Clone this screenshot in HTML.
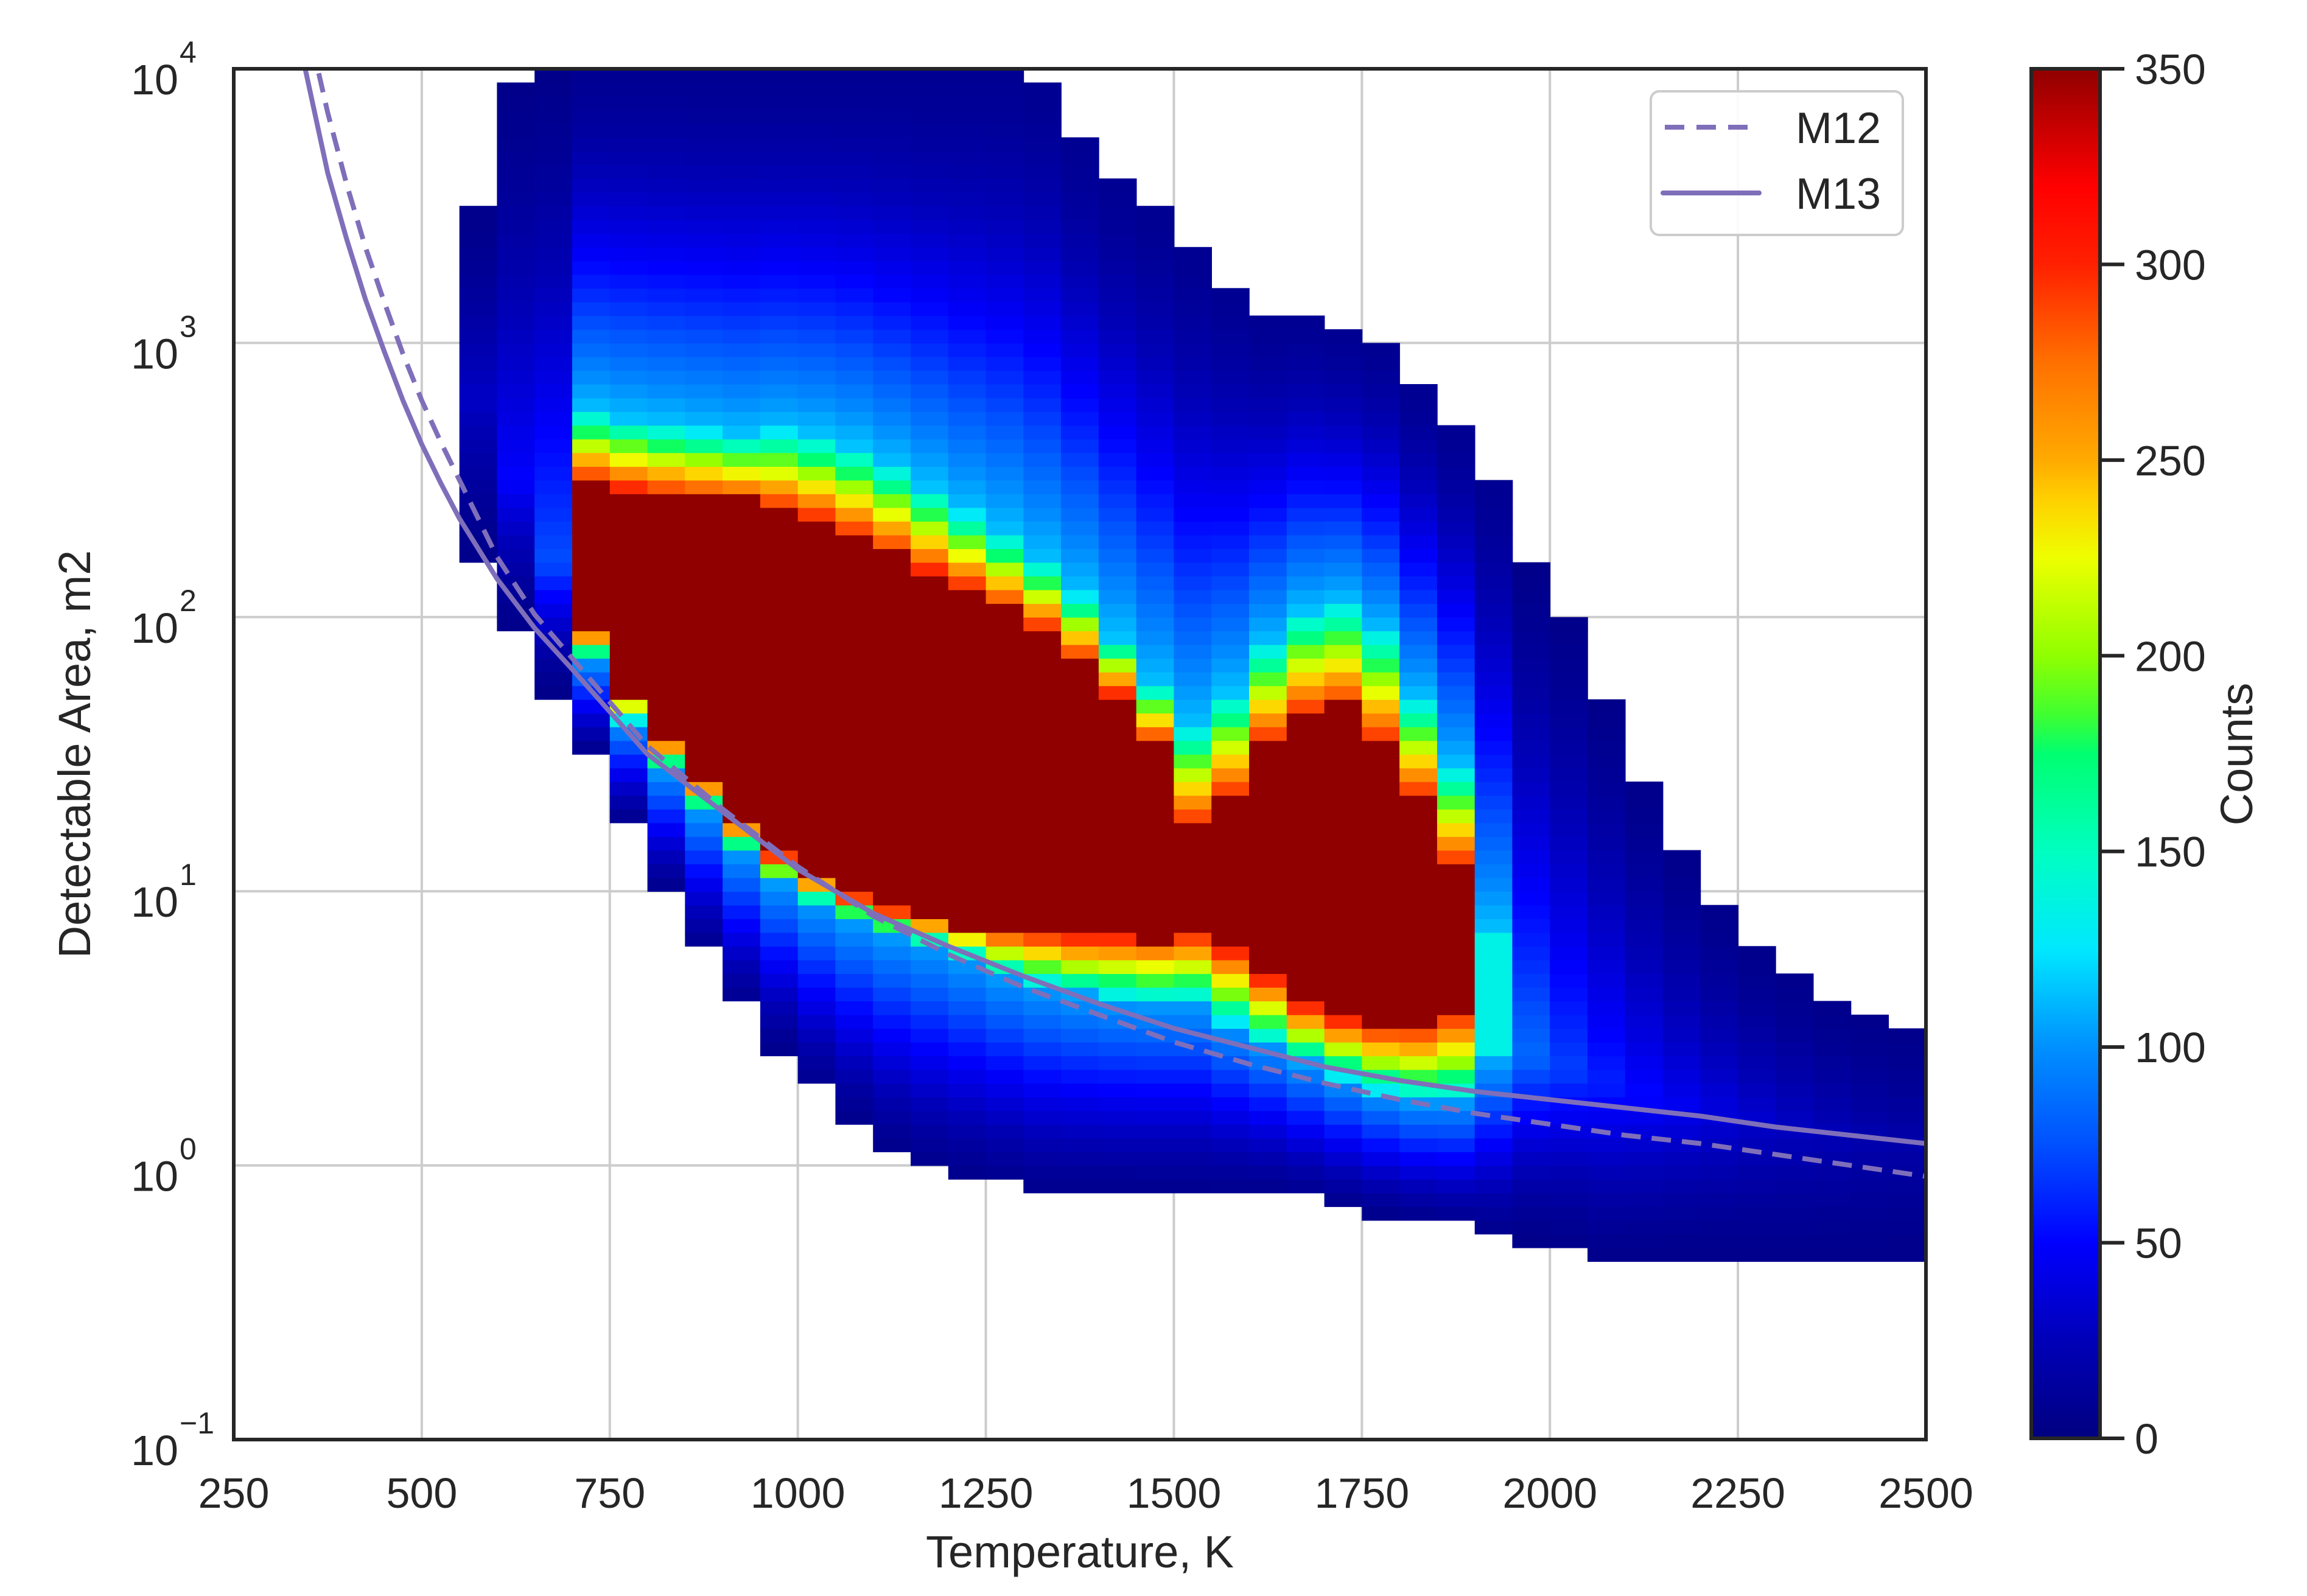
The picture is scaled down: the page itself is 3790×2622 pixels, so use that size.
<!DOCTYPE html>
<html><head><meta charset="utf-8">
<style>
html,body{margin:0;padding:0;background:#fff;}
svg{display:block;font-family:"Liberation Sans",Arial,sans-serif;}
</style></head>
<body>
<svg id="chart" width="3790" height="2622" viewBox="0 0 3790 2622" xmlns="http://www.w3.org/2000/svg">
<defs>
 <clipPath id="plotclip"><rect x="384" y="113" width="2780" height="2252"/></clipPath>
 <linearGradient id="cbgrad" x1="0" y1="1" x2="0" y2="0"></linearGradient>
</defs>
<rect x="0" y="0" width="3790" height="2622" fill="#fff"/>
<g id="grid"></g>
<g id="heat" clip-path="url(#plotclip)"></g>
<g id="curves" clip-path="url(#plotclip)"></g>
<rect x="384" y="113" width="2780" height="2252" fill="none" stroke="#262626" stroke-width="6"/>
<g id="xticks"></g>
<g id="yticks"></g>
<text x="1774" y="2575" font-size="74" text-anchor="middle" fill="#262626">Temperature, K</text>
<text x="0" y="0" font-size="74" text-anchor="middle" fill="#262626" transform="translate(148,1239) rotate(-90)">Detectable Area, m2</text>
<g id="legend">
 <rect x="2712" y="150" width="414" height="236" rx="14" fill="#fff" fill-opacity="0.9" stroke="#cccccc" stroke-width="4"/>
 <line x1="2735" y1="209" x2="2885" y2="209" stroke="#7f6fba" stroke-width="8" stroke-dasharray="32 20"/>
 <text x="2950" y="235" font-size="72" fill="#262626">M12</text>
 <line x1="2732" y1="317" x2="2890" y2="317" stroke="#7f6fba" stroke-width="8" stroke-linecap="round"/>
 <text x="2950" y="343" font-size="72" fill="#262626">M13</text>
</g>
<g id="colorbar">
 <rect x="3337" y="113" width="113" height="2250" fill="url(#cbgrad)" stroke="#262626" stroke-width="6"/>
 <g id="cbticks"></g>
 <text x="0" y="0" font-size="74" text-anchor="middle" fill="#262626" transform="translate(3700,1239) rotate(-90)">Counts</text>
</g>
</svg>
<script>
// ---- data ----
const colT = [275,325,375,425,475,525,575,625,675,725,775,825,875,925,975,1025,1075,1125,1175,1225,1275,1325,1375,1425,1475,1525,1575,1625,1675,1725,1775,1825,1875,1925,1975,2025,2075,2125,2175,2225,2275,2325,2375,2425,2475];
const outerTop = [null,null,null,null,null,null,3.5,3.95,4,4,4,4,4,4,4,4,4,4,4,4,4,3.95,3.75,3.6,3.5,3.35,3.2,3.1,3.1,3.05,3.0,2.85,2.7,2.5,2.2,2.0,1.7,1.4,1.15,0.95,0.8,0.7,0.6,0.55,0.5];
const outerBottom = [null,null,null,null,null,null,2.2,1.95,1.72,1.5,1.25,1.0,0.78,0.58,0.42,0.28,0.16,0.06,0.0,-0.04,-0.07,-0.1,-0.1,-0.1,-0.1,-0.1,-0.1,-0.1,-0.12,-0.15,-0.18,-0.2,-0.22,-0.25,-0.28,-0.3,-0.35,-0.35,-0.35,-0.35,-0.35,-0.35,-0.35,-0.35,-0.35];
const cyanTop = [null,null,null,null,null,null,null,null,null,2.75,2.72,2.70,2.68,2.66,2.68,2.66,2.62,2.55,2.47,2.38,2.3,2.2,2.08,1.92,1.75,1.6,1.72,1.9,2.02,2.05,1.95,1.7,1.45,0.85,null,null,null,null,null,null,null,null,null,null,null];
const cyanBottom = [null,null,null,null,null,null,null,null,null,1.85,1.62,1.45,1.3,1.15,1.04,0.96,0.9,0.85,0.81,0.76,0.7,0.66,0.63,0.61,0.6,0.6,0.52,0.45,0.38,0.32,0.27,0.24,0.24,0.38,null,null,null,null,null,null,null,null,null,null,null];
const redTop = [null,null,null,null,null,null,null,null,null,2.5,2.47,2.45,2.44,2.43,2.4,2.36,2.3,2.24,2.17,2.11,2.04,1.96,1.85,1.72,1.55,1.25,1.35,1.55,1.65,1.68,1.55,1.35,1.1,null,null,null,null,null,null,null,null,null,null,null,null];
const redBottom = [null,null,null,null,null,null,null,null,null,1.95,1.72,1.55,1.4,1.25,1.13,1.05,0.98,0.93,0.9,0.87,0.85,0.84,0.83,0.83,0.82,0.84,0.78,0.68,0.58,0.53,0.5,0.5,0.55,null,null,null,null,null,null,null,null,null,null,null,null];
const peakLog = [null,null,null,null,null,null,2.8,2.5,2.2,null,null,null,null,null,null,null,null,null,null,null,null,null,null,null,null,null,null,null,null,null,null,null,null,null,0.4,0.35,0.3,0.25,0.22,0.2,0.18,0.15,0.12,0.1,0.08];
const peakVal = [null,null,null,null,null,null,25,45,70,null,null,null,null,null,null,null,null,null,null,null,null,null,null,null,null,null,null,null,null,null,null,null,null,null,80,65,55,47,40,34,28,24,20,16,14];

const curveT = [345,375,400,425,450,475,500,525,550,600,650,700,800,900,1000,1100,1200,1300,1400,1500,1600,1700,1800,1900,2000,2100,2200,2300,2400,2500];
const m13Log = [4.0,3.62,3.38,3.16,2.97,2.79,2.63,2.49,2.36,2.14,1.96,1.81,1.50,1.29,1.08,0.92,0.80,0.69,0.59,0.50,0.43,0.36,0.31,0.27,0.24,0.21,0.18,0.14,0.11,0.08];
const m12Log = [4.2,3.84,3.58,3.35,3.15,2.96,2.79,2.64,2.5,2.22,2.01,1.85,1.53,1.30,1.09,0.91,0.77,0.65,0.55,0.45,0.37,0.30,0.24,0.19,0.15,0.11,0.08,0.04,0.0,-0.04];

const xTickVals = [250,500,750,1000,1250,1500,1750,2000,2250,2500];
const yTickExps = [-1,0,1,2,3,4];
const cbTickVals = [0,50,100,150,200,250,300,350];
const cmapVals = [0,25,50,75,100,125,150,175,185,200,225,240,250,275,300,320,350];
const cmapCols = ['#000080','#0000b8','#0000ff','#0050ff','#0090ff','#00e8ff','#00ffc0','#00ff70','#40ff30','#90ff00','#eeff00','#ffd000','#ffaa00','#ff7000','#ff2000','#ff0000','#900000'];

// ---- scales ----
const PX0=384, PX1=3164, PY0=113, PY1=2365;
function xs(T){return PX0+(T-250)/2250*(PX1-PX0);}
function ys(L){return PY0+(4-L)/5*(PY1-PY0);}
const CB0=2363, CB1=113;
function cbs(v){return CB0+(v-0)/350*(CB1-CB0);}
const NS='http://www.w3.org/2000/svg';
function mk(tag,attrs,parent){const e=document.createElementNS(NS,tag);for(const k in attrs)e.setAttribute(k,attrs[k]);parent.appendChild(e);return e;}
function hex(c){return [parseInt(c.slice(1,3),16),parseInt(c.slice(3,5),16),parseInt(c.slice(5,7),16)];}
function cmap(v){
  if(v>=cmapVals[cmapVals.length-1])return cmapCols[cmapCols.length-1];
  for(let i=0;i<cmapVals.length-1;i++){
    if(v<=cmapVals[i+1]){const f=(v-cmapVals[i])/(cmapVals[i+1]-cmapVals[i]);const a=hex(cmapCols[i]),b=hex(cmapCols[i+1]);
      return 'rgb('+a.map((x,j)=>Math.round(x+(b[j]-x)*f)).join(',')+')';}
  }
  return cmapCols[0];
}

// ---- grid ----
const grid=document.getElementById('grid');
xTickVals.forEach(t=>{const l=mk('line',{x1:xs(t),x2:xs(t),y1:PY0,y2:PY1,stroke:'#cccccc','stroke-width':4},grid);

});
yTickExps.forEach(e=>{const l=mk('line',{x1:PX0,x2:PX1,y1:ys(e),y2:ys(e),stroke:'#cccccc','stroke-width':4},grid);

});

// ---- heatmap ----
const heat=document.getElementById('heat');
const STEP=0.05;
for(let i=0;i<colT.length;i++){
  if(outerTop[i]===null)continue;
  const x0=xs(colT[i]-25), x1=xs(colT[i]+25);
  for(let L=-1;L<4;L+=STEP){
    const mid=L+STEP/2;
    if(mid>outerTop[i]||mid<outerBottom[i])continue;
    let v;
    if(redTop[i]!==null&&mid<=redTop[i]&&mid>=redBottom[i]) v=360;
    else if(cyanTop[i]!==null&&mid<=cyanTop[i]&&mid>=cyanBottom[i]){
      if(redTop[i]!==null){
        if(mid>redTop[i]) v=300-175*(mid-redTop[i])/(cyanTop[i]-redTop[i]);
        else v=300-175*(redBottom[i]-mid)/(redBottom[i]-cyanBottom[i]);
      } else v=135;
    } else if(cyanTop[i]!==null){
      let up = mid>cyanTop[i];
      let d= up ? (mid-cyanTop[i])/(outerTop[i]-cyanTop[i]) : (cyanBottom[i]-mid)/(cyanBottom[i]-outerBottom[i]);
      d=Math.min(1,Math.max(0,d));
      v= up ? 8+107*Math.pow(1-d,1.6) : 6+100*Math.pow(1-d,1.3);
    } else {
      const c=peakLog[i];
      let d= mid>c ? (mid-c)/(outerTop[i]-c) : (c-mid)/(c-outerBottom[i]);
      d=Math.min(1,Math.max(0,d));
      v=5+peakVal[i]*Math.pow(1-d,1.5);
    }
    const r=mk('rect',{x:x0.toFixed(1),y:ys(L+STEP).toFixed(1),width:(x1-x0+0.8).toFixed(1),height:(ys(L)-ys(L+STEP)+0.8).toFixed(1),fill:cmap(v)},heat);
    
    
  }
}

// ---- curves ----
const curves=document.getElementById('curves');
function pathFor(arr){return curveT.map((t,k)=>(k?'L':'M')+xs(t).toFixed(1)+','+ys(arr[k]).toFixed(1)).join(' ');}
const p12=mk('path',{d:pathFor(m12Log),fill:'none',stroke:'#7f6fba','stroke-width':8,'stroke-dasharray':'32 18','stroke-linejoin':'round'},curves);


const p13=mk('path',{d:pathFor(m13Log),fill:'none',stroke:'#7f6fba','stroke-width':8,'stroke-linejoin':'round'},curves);



// ---- ticks ----
const xt=document.getElementById('xticks');
xTickVals.forEach(t=>{const e=mk('text',{x:xs(t),y:2477,'font-size':70,'text-anchor':'middle',fill:'#262626'},xt);e.textContent=t;

});
const yt=document.getElementById('yticks');
yTickExps.forEach(ex=>{const y=ys(ex);
 const e=mk('text',{x:293,y:y+42,'font-size':70,'text-anchor':'end',fill:'#262626'},yt);e.textContent='10';
 
 
 const s=mk('text',{x:295,y:y-10,'font-size':50,'text-anchor':'start',fill:'#262626'},yt);s.textContent=String(ex).replace('-','\u2212');
 
 });

// ---- colorbar ----
const grad=document.getElementById('cbgrad');
cmapVals.forEach((v,k)=>{mk('stop',{offset:(v/350).toFixed(4),'stop-color':cmapCols[k]},grad);});
const cbt=document.getElementById('cbticks');
cbTickVals.forEach(v=>{const y=cbs(v);
 const l=mk('line',{x1:3450,x2:3490,y1:y,y2:y,stroke:'#262626','stroke-width':6},cbt);
 
 
 const e=mk('text',{x:3507,y:y+25,'font-size':70,fill:'#262626'},cbt);e.textContent=v;
 
 });
</script>
</body></html>
